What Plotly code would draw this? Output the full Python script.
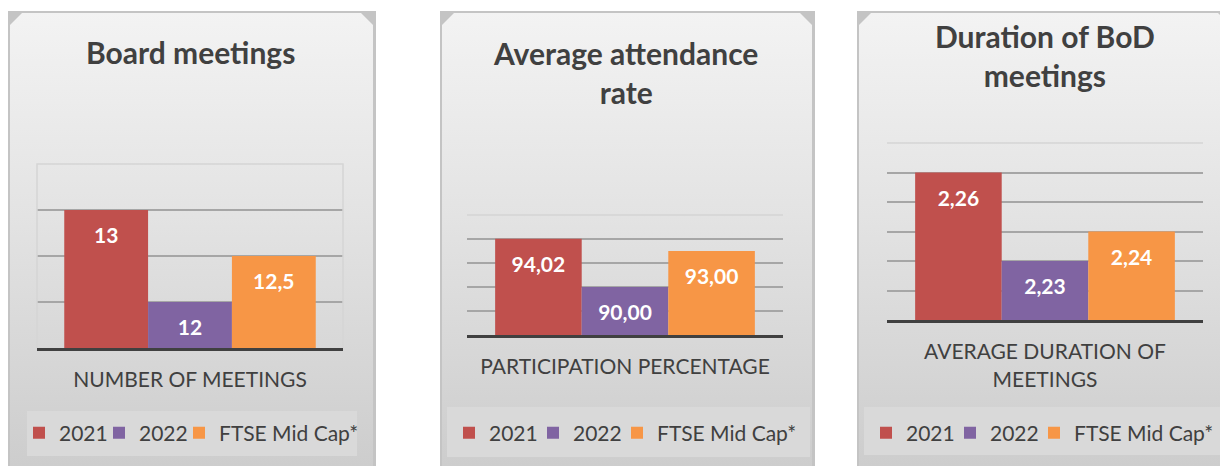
import plotly.graph_objects as go

# ---------------- data ----------------
series = ["2021", "2022", "FTSE Mid Cap*"]
series_colors = ["#c0504d", "#8064a2", "#f79646"]

panel_titles = ["Board meetings", "Average attendance<br>rate", "Duration of BoD<br>meetings"]
category_labels = ["NUMBER OF MEETINGS", "PARTICIPATION PERCENTAGE", "AVERAGE DURATION OF<br>MEETINGS"]

meetings = [13, 12, 12.5]
attendance = [94.02, 90.00, 93.00]
duration = [2.26, 2.23, 2.24]

meetings_labels = [f"{v:g}".replace(".", ",") for v in meetings]
attendance_labels = [f"{v:.2f}".replace(".", ",") for v in attendance]
duration_labels = [f"{v:.2f}".replace(".", ",") for v in duration]

# ---------------- layout geometry (pixels) ----------------
W, H = 1220, 466
FONT = "Lato"
TXT = "#404040"


def fx(px):
    return px / W


def fy(py):
    return 1 - py / H


panels = [
    dict(frame=(8, 376), plot=(37, 343, 164, 348), yr=[11.5, 13.5], tv=[12, 12.5, 13],
         vals=meetings, labels=meetings_labels, title_y=52, legend=(27, 357, 411, 456),
         lx=19, ew=35, lfont=21, full_box=True),
    dict(frame=(440, 815), plot=(467, 783, 215, 335), yr=[86, 96], tv=[88, 90, 92, 94],
         vals=attendance, labels=attendance_labels, title_y=72.5, legend=(447, 810, 407, 457),
         lx=449, ew=39, lfont=21, full_box=False),
    dict(frame=(857, 1233), plot=(887, 1203, 143, 320), yr=[2.21, 2.27], tv=[2.22, 2.23, 2.24, 2.25, 2.26],
         vals=duration, labels=duration_labels, title_y=56, legend=(864, 1240, 407, 455),
         lx=866, ew=39, lfont=21, full_box=False),
]

fig = go.Figure()

# background subplot (whole figure, 1 unit = 1 px)
TOP, BOT, CH = 12, 490, 12
for p in panels:
    a, b = p["frame"]
    fig.add_trace(go.Scatter(
        x=[a, b, b, a, a], y=[TOP - 1, TOP - 1, BOT, BOT, TOP - 1],
        fill="toself", fillcolor="#c4c4c4", mode="lines", line=dict(width=0),
        hoverinfo="skip", showlegend=False, xaxis="x", yaxis="y"))
    ia, ib, it = a + 2, b - 3, TOP + 1
    fig.add_trace(go.Scatter(
        x=[ia, ia + CH, ib - CH, ib, ib, ia, ia],
        y=[it + CH, it, it, it + CH, BOT, BOT, it + CH],
        fill="toself", mode="lines", line=dict(width=0),
        fillgradient=dict(type="vertical", start=TOP, stop=H,
                          colorscale=[[0, "#f3f3f3"], [0.45, "#e3e3e3"], [1, "#cdcdcd"]]),
        hoverinfo="skip", showlegend=False, xaxis="x", yaxis="y"))

layout = dict(
    width=W, height=H, margin=dict(l=0, r=0, t=0, b=0),
    paper_bgcolor="white", plot_bgcolor="rgba(0,0,0,0)",
    barmode="relative", hovermode=False, showlegend=True,
    font=dict(family=FONT, color=TXT),
    xaxis=dict(domain=[0, 1], range=[0, W], visible=False, fixedrange=True),
    yaxis=dict(domain=[0, 1], range=[H, 0], visible=False, fixedrange=True),
)

shapes = []
annotations = []

for k, p in enumerate(panels):
    n = k + 2
    xa, ya = f"x{n}", f"y{n}"
    leg = "legend" if k == 0 else f"legend{k + 1}"
    x0, x1, y0, y1 = p["plot"]

    for j, s in enumerate(series):
        extra = {} if j == len(series) - 1 else dict(legendwidth=p["ew"])
        fig.add_trace(go.Bar(
            x=[s], y=[p["vals"][j]], name=s, width=1,
            marker=dict(color=series_colors[j], line=dict(width=0)),
            xaxis=xa, yaxis=ya, legend=leg, showlegend=True, **extra))

    fig.add_trace(go.Scatter(
        x=series, y=p["vals"], text=p["labels"], mode="markers+text",
        textposition="bottom center",
        marker=dict(size=26, opacity=0),
        textfont=dict(family=FONT, size=21, color="white", weight="bold"),
        xaxis=xa, yaxis=ya, showlegend=False, hoverinfo="skip", cliponaxis=False))

    layout[f"xaxis{n}"] = dict(
        domain=[fx(x0), fx(x1)], anchor=ya, type="category",
        categoryorder="array", categoryarray=series,
        range=[-0.825, 2.825], showticklabels=False, ticks="",
        showline=True, linecolor="#404040", linewidth=3,
        showgrid=False, zeroline=False, fixedrange=True,
        title=dict(text=category_labels[k], standoff=23,
                   font=dict(family=FONT, size=21, color=TXT)))
    layout[f"yaxis{n}"] = dict(
        domain=[fy(y1), fy(y0)], anchor=xa, range=p["yr"], tickvals=p["tv"],
        showticklabels=False, showgrid=True, gridcolor="#a6a6a6", gridwidth=1.5,
        zeroline=False, showline=False, fixedrange=True)

    # light outline of the plot area
    if p["full_box"]:
        shapes.append(dict(type="path", xref="paper", yref="paper", layer="above",
                           path=f"M{fx(x0)},{fy(y1)} L{fx(x0)},{fy(y0)} L{fx(x1)},{fy(y0)} L{fx(x1)},{fy(y1)}",
                           line=dict(color="#d5d5d5", width=1.5)))
    else:
        shapes.append(dict(type="line", xref="paper", yref="paper", layer="above",
                           x0=fx(x0), x1=fx(x1), y0=fy(y0), y1=fy(y0),
                           line=dict(color="#d5d5d5", width=1.5)))

    # legend box
    lx0, lx1, ly0, ly1 = p["legend"]
    shapes.append(dict(type="rect", xref="paper", yref="paper", layer="above",
                       x0=fx(lx0), x1=fx(lx1), y0=fy(ly1), y1=fy(ly0),
                       fillcolor="#d9d9d9", line=dict(width=0)))

    layout[leg] = dict(orientation="h", x=fx(p["lx"]), xanchor="left",
                       y=fy(433), yanchor="middle", bgcolor="rgba(0,0,0,0)",
                       font=dict(family=FONT, size=p["lfont"], color=TXT),
                       itemclick=False, itemdoubleclick=False, traceorder="normal")

    # panel title
    annotations.append(dict(text=f"<b>{panel_titles[k]}</b>", xref="paper", yref="paper",
                            x=fx((x0 + x1) / 2), y=fy(p["title_y"]), xanchor="center",
                            yanchor="middle", showarrow=False,
                            font=dict(family=FONT, size=30, color=TXT)))

layout["shapes"] = shapes
layout["annotations"] = annotations
fig.update_layout(**layout)

fig.write_html("out.html", config={"displayModeBar": False},
               post_script="document.body.style.margin='0';")
